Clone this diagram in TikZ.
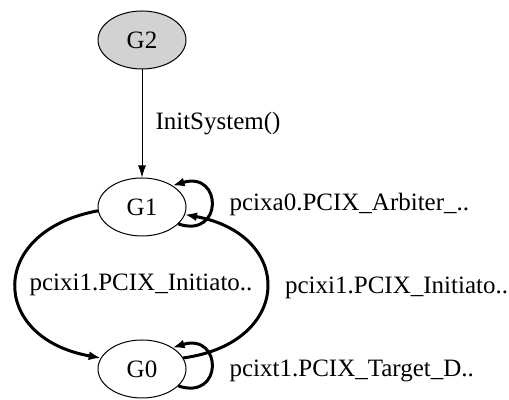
\documentclass[tikz,border=0pt]{standalone}
\usepackage{fontspec}
\setmainfont{Liberation Serif}
\usetikzlibrary{shapes, arrows.meta, positioning}

\begin{document}
\begin{tikzpicture}[x=0.5pt, y=0.5pt, font=\fontsize{12.5}{15}\selectfont,
    state/.style={draw, ellipse, line width=0.5pt, minimum width=44pt, minimum height=29pt, inner sep=0pt},
    thin edge/.style={line width=0.5pt, -{Latex[length=6pt,width=4pt]}},
    thick edge/.style={line width=1.5pt, -{Latex[length=6pt,width=4.5pt]}},
    lbl/.style={inner sep=0pt}]
    \useasboundingbox (0,0) rectangle (509,400);

    % States
    \node[state, fill=gray!35] (g2) at (142,360) {G2};
    \node[state] (g1) at (142,193) {G1};
    \node[state] (g0) at (142,31) {G0};

    % Initial transition
    \draw[thin edge] (g2) -- node[lbl, right=6.5pt] {InitSystem()} (g1);

    % Transitions between G1 and G0
    \draw[thick edge] (g1.185) .. controls +(-110,-20) and +(-112,20) .. node[lbl, right=6pt] {pcixi1.PCIX\_Initiato..} (g0.165);
    \draw[thick edge] (g0.15) .. controls +(110,15) and +(110,-20) .. node[lbl, right=8.5pt] {pcixi1.PCIX\_Initiato..} (g1.-10);

    % Self loops
    \draw[thick edge] (g1.-25) .. controls +(45,-15) and +(50,15) .. node[lbl, right=8.5pt] {pcixa0.PCIX\_Arbiter\_..} (g1.35);
    \draw[thick edge] (g0.-25) .. controls +(45,-15) and +(50,15) .. node[lbl, right=8.5pt, yshift=-2pt] {pcixt1.PCIX\_Target\_D..} (g0.35);
\end{tikzpicture}
\end{document}
